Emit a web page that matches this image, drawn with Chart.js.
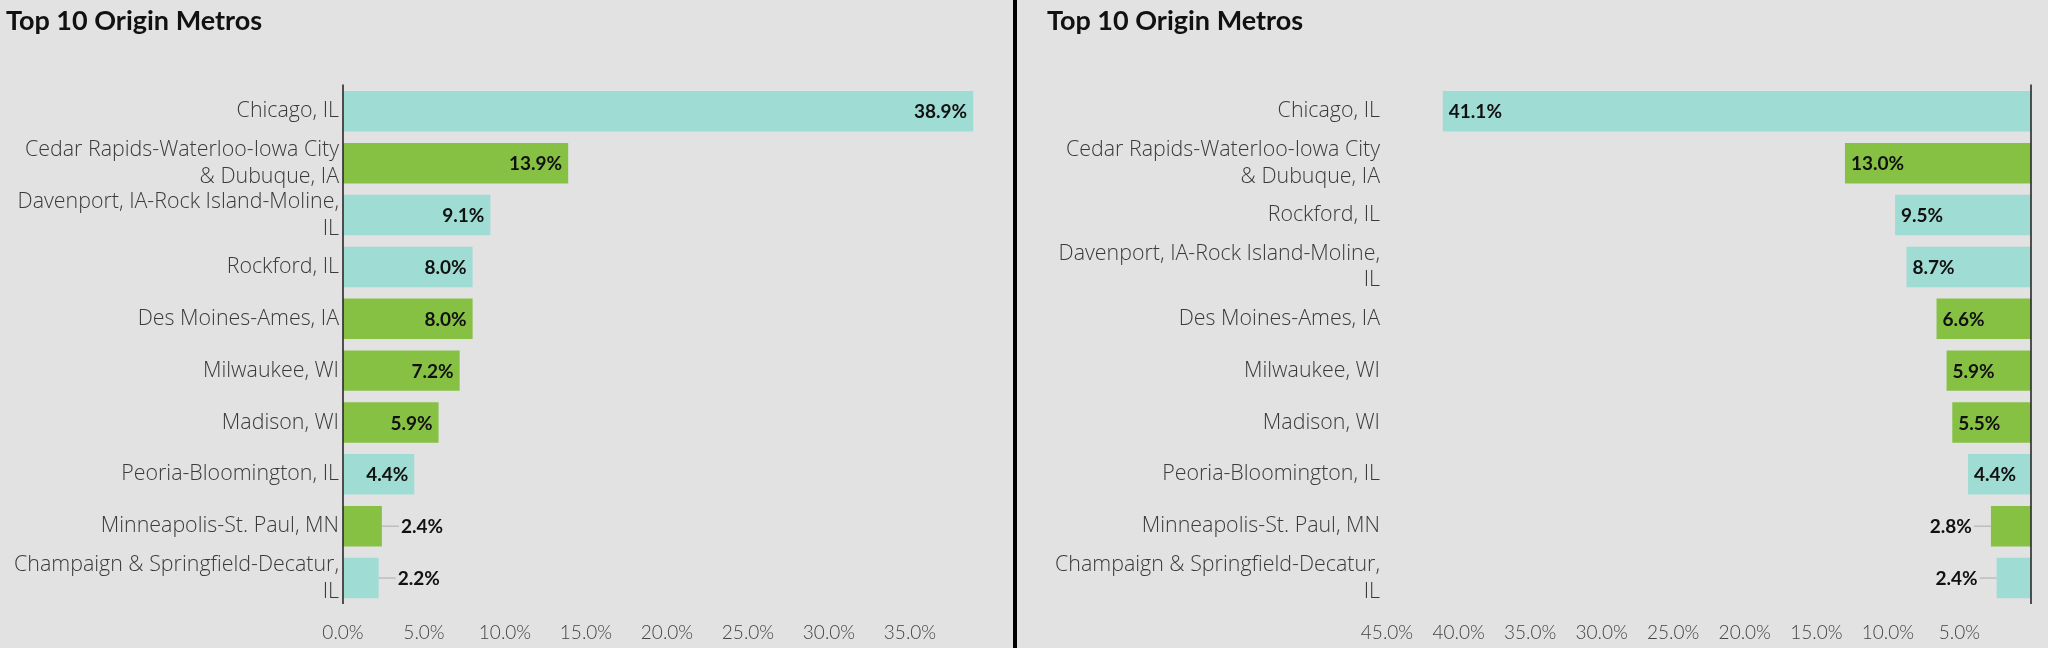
<!DOCTYPE html>
<html>
<head>
<meta charset="utf-8">
<script src="https://cdn.jsdelivr.net/npm/chart.js@4.4.1/dist/chart.umd.min.js"></script>
<style>
  html, body { margin: 0; padding: 0; background: #e2e2e2; }
  .wrap { display: flex; width: 2048px; height: 648px; }
  .panel { position: relative; height: 648px; }
  #leftBox { width: 1013px; }
  #rightBox { width: 1031px; }
  .divider { width: 4px; height: 648px; background: #000; }
</style>
</head>
<body>
<div class="wrap">
  <div class="panel" id="leftBox"><canvas id="leftChart"></canvas></div>
  <div class="divider"></div>
  <div class="panel" id="rightBox"><canvas id="rightChart"></canvas></div>
</div>
<script>
// data
const titleText = 'Top 10 Origin Metros';

const leftCategories = [
  'Chicago, IL',
  ['Cedar Rapids-Waterloo-Iowa City', '& Dubuque, IA'],
  ['Davenport, IA-Rock Island-Moline,', 'IL'],
  'Rockford, IL',
  'Des Moines-Ames, IA',
  'Milwaukee, WI',
  'Madison, WI',
  'Peoria-Bloomington, IL',
  'Minneapolis-St. Paul, MN',
  ['Champaign & Springfield-Decatur,', 'IL']
];
const leftValues = [38.9, 13.9, 9.1, 8.0, 8.0, 7.2, 5.9, 4.4, 2.4, 2.2];
const leftTicks = [0, 5, 10, 15, 20, 25, 30, 35];

const rightCategories = [
  'Chicago, IL',
  ['Cedar Rapids-Waterloo-Iowa City', '& Dubuque, IA'],
  'Rockford, IL',
  ['Davenport, IA-Rock Island-Moline,', 'IL'],
  'Des Moines-Ames, IA',
  'Milwaukee, WI',
  'Madison, WI',
  'Peoria-Bloomington, IL',
  'Minneapolis-St. Paul, MN',
  ['Champaign & Springfield-Decatur,', 'IL']
];
const rightValues = [41.1, 13.0, 9.5, 8.7, 6.6, 5.9, 5.5, 4.4, 2.8, 2.4];
const rightTicks = [5, 10, 15, 20, 25, 30, 35, 40, 45];

const TEAL = '#9fdcd3';
const GREEN = '#86c144';
// IL metros teal, the rest green
const leftColors = [TEAL, GREEN, TEAL, TEAL, GREEN, GREEN, GREEN, TEAL, GREEN, TEAL];
const rightColors = [TEAL, GREEN, TEAL, TEAL, GREEN, GREEN, GREEN, TEAL, GREEN, TEAL];

// zero line + value labels
const barDecor = {
  id: 'barDecor',
  afterDatasetsDraw(chart) {
    const ctx = chart.ctx;
    const x = chart.scales.x;
    const area = chart.chartArea;
    const rev = x.options.reverse;

    ctx.save();
    const zx = x.getPixelForValue(0);
    ctx.strokeStyle = '#2a2a2a';
    ctx.lineWidth = 1.6;
    ctx.beginPath();
    ctx.moveTo(zx, area.top - 1);
    ctx.lineTo(zx, area.bottom);
    ctx.stroke();

    ctx.font = 'bold 19px Lato';
    ctx.textBaseline = 'middle';
    ctx.fillStyle = '#111';
    const meta = chart.getDatasetMeta(0);
    const vals = chart.data.datasets[0].data;
    meta.data.forEach((bar, i) => {
      const v = vals[i];
      const txt = v.toFixed(1) + '%';
      const dir = rev ? -1 : 1;
      if (v >= 3) {
        ctx.textAlign = rev ? 'left' : 'right';
        ctx.fillText(txt, bar.x - dir * 6, bar.y + 1);
      } else {
        ctx.strokeStyle = '#bdbdbd';
        ctx.lineWidth = 1.5;
        ctx.beginPath();
        ctx.moveTo(bar.x, bar.y);
        ctx.lineTo(bar.x + dir * 17, bar.y);
        ctx.stroke();
        ctx.textAlign = rev ? 'right' : 'left';
        ctx.fillText(txt, bar.x + dir * 19, bar.y + 1);
      }
    });
    ctx.restore();
  }
};

function makeChart(id, labels, values, colors, tickVals, opts) {
  return new Chart(document.getElementById(id), {
    type: 'bar',
    data: {
      labels: labels,
      datasets: [{
        data: values,
        backgroundColor: colors,
        borderWidth: 0,
        barPercentage: 0.78,
        categoryPercentage: 1
      }]
    },
    options: {
      indexAxis: 'y',
      responsive: true,
      maintainAspectRatio: false,
      animation: false,
      layout: { padding: { left: opts.padLeft, right: opts.padRight, top: 0, bottom: 0 } },
      scales: {
        x: {
          min: 0,
          max: opts.max,
          reverse: opts.reverse,
          grid: { display: false, drawTicks: false },
          border: { display: false },
          afterBuildTicks: (s) => { s.ticks = tickVals.map(v => ({ value: v })); },
          afterFit: (s) => { s.height = 44; },
          ticks: {
            color: '#444',
            padding: 17,
            maxRotation: 0,
            autoSkip: false,
            font: { family: 'Lato', size: 19, weight: '300' },
            callback: (v) => v.toFixed(1) + '%'
          }
        },
        y: {
          grid: { display: false, drawTicks: false },
          border: { display: false },
          afterFit: (s) => { s.width = opts.yWidth; },
          ticks: {
            color: '#3a3a3a',
            padding: opts.yPad,
            autoSkip: false,
            font: { family: 'Open Sans', size: 21.4, weight: '300', lineHeight: 1.25 }
          }
        }
      },
      plugins: {
        legend: { display: false },
        tooltip: { enabled: false },
        title: {
          display: true,
          text: titleText,
          align: 'start',
          color: '#111',
          font: { family: 'Lato', size: 27, weight: 'bold', lineHeight: 1.2 },
          padding: { top: 5, bottom: 48 }
        }
      }
    },
    plugins: [barDecor]
  });
}

makeChart('leftChart', leftCategories, leftValues, leftColors, leftTicks,
  { max: 40, reverse: false, padLeft: 6, padRight: 22, yWidth: 337, yPad: 4 });
makeChart('rightChart', rightCategories, rightValues, rightColors, rightTicks,
  { max: 45, reverse: true, padLeft: 30, padRight: 17, yWidth: 340, yPad: 7 });
</script>
</body>
</html>
